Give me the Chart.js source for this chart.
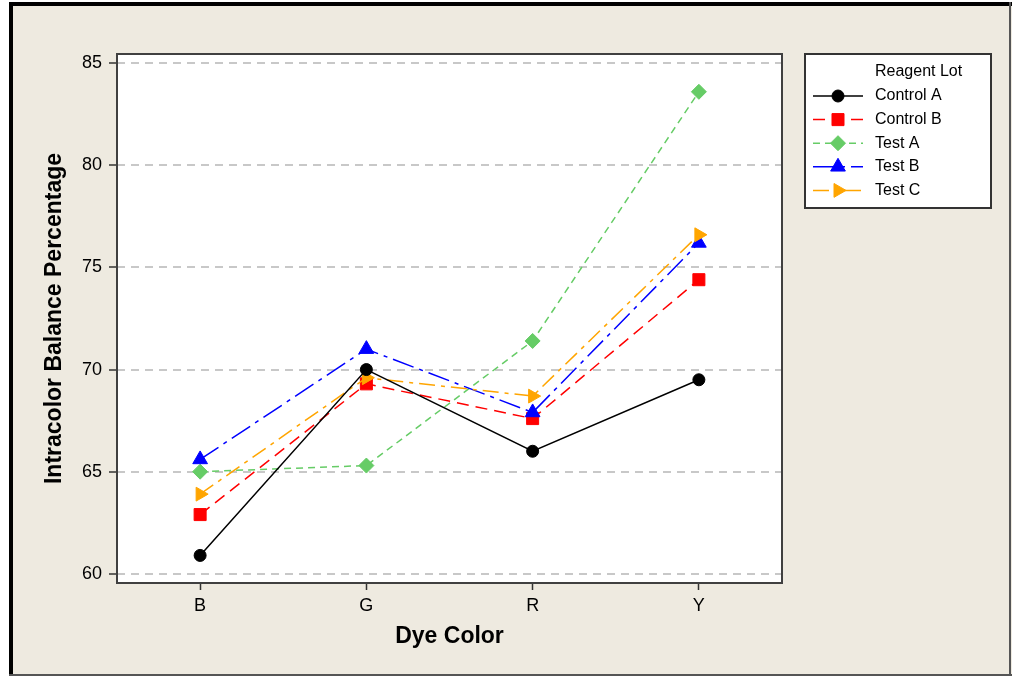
<!DOCTYPE html>
<html>
<head>
<meta charset="utf-8">
<script src="https://cdn.jsdelivr.net/npm/chart.js@4/dist/chart.umd.min.js"></script>
<style>
  html, body { margin:0; padding:0; background:#fff; }
  #wrap { width:1012px; height:676px; position:relative; }
</style>
</head>
<body>
<div id="wrap"><canvas id="chart"></canvas></div>
<script>
// ---------------------------
// DATA
// ---------------------------
const categories = ["B", "G", "R", "Y"];
const controlA = [60.9, 70.0, 66.0, 69.5];
const controlB = [62.9, 69.3, 67.6, 74.4];
const testA    = [65.0, 65.3, 71.4, 83.6];
const testB    = [65.6, 71.0, 67.9, 76.2];
const testC    = [63.9, 69.6, 68.7, 76.6];
const yTicks = [60, 65, 70, 75, 80, 85];
const legendTitle = "Reagent Lot";
const xTitle = "Dye Color";
const yTitle = "Intracolor Balance Percentage";

const FONT = "'Liberation Sans', Arial, sans-serif";
const BG = "#eeeae0";

// ---------------------------
// DATASETS
// ---------------------------
function series(label, data, color, dash, style, radius, rotation, order){
  return {
    label, data, order,
    borderColor: color, backgroundColor: color,
    borderWidth: 1.5, borderDash: dash,
    pointStyle: style, pointRadius: radius, pointHoverRadius: radius,
    pointRotation: rotation, pointBorderColor: color, pointBackgroundColor: color,
    pointBorderWidth: 1, tension: 0
  };
}

const datasets = [
  series("Control A", controlA, "#000000", [], "circle", 6, 0, 0),
  series("Control B", controlB, "#ff0000", [12, 7], "rect", 8.5, 0, 4),
  series("Test A", testA, "#66cc66", [7, 5], "rectRot", 7.5, 0, 3),
  series("Test B", testB, "#0000ff", [22, 6, 4, 6], "triangle", 8.5, 0, 2),
  series("Test C", testC, "#ffa500", [16, 6, 4, 6], "triangle", 8, 90, 1),
];

// ---------------------------
// PLUGINS (frame + legend box)
// ---------------------------
const frame = {
  id: "frame",
  beforeDraw(chart){
    const c = chart.ctx;
    c.save();
    c.fillStyle = "#ffffff";
    c.fillRect(0, 0, chart.width, chart.height);
    c.fillStyle = BG;
    c.fillRect(9, 2, chart.width - 9, chart.height - 2);
    c.fillStyle = "#000";
    c.fillRect(9, 2, chart.width - 9, 4);
    c.fillRect(9, 2, 4, chart.height - 2);
    c.fillStyle = "#555";
    c.fillRect(chart.width - 3, 2, 2, chart.height - 2);
    c.fillRect(9, chart.height - 2, chart.width - 9, 2);
    const a = chart.chartArea;
    c.fillStyle = "#ffffff";
    c.fillRect(a.left, a.top, a.right - a.left, a.bottom - a.top);
    c.restore();
  },
  afterDraw(chart){
    const c = chart.ctx;
    const a = chart.chartArea;
    c.save();
    c.strokeStyle = "#404040";
    c.lineWidth = 2;
    c.strokeRect(a.left, a.top, a.right - a.left, a.bottom - a.top);

    // legend box
    const bx = 805, by = 54, bw = 186, bh = 154;
    c.fillStyle = "#ffffff";
    c.fillRect(bx, by, bw, bh);
    c.strokeStyle = "#333";
    c.strokeRect(bx, by, bw, bh);
    c.fillStyle = "#000";
    c.font = "16px " + FONT;
    c.textBaseline = "middle";
    c.textAlign = "left";
    c.fillText(legendTitle, 875, 72);
    chart.data.datasets.forEach((d, i) => {
      const y = 96 + i * 23.6;
      c.save();
      c.strokeStyle = d.borderColor;
      c.lineWidth = 1.5;
      c.setLineDash(d.borderDash);
      c.beginPath();
      c.moveTo(813, y);
      c.lineTo(863, y);
      c.stroke();
      c.restore();
      c.save();
      c.fillStyle = d.pointBackgroundColor;
      c.strokeStyle = d.pointBorderColor;
      c.lineWidth = 1;
      Chart.helpers.drawPoint(c, {
        pointStyle: d.pointStyle, radius: d.pointRadius,
        rotation: d.pointRotation, borderWidth: 1
      }, 838, y);
      c.restore();
      c.fillStyle = "#000";
      c.font = "16px " + FONT;
      c.fillText(d.label, 875, y);
    });
    c.restore();
  }
};

// ---------------------------
// CHART
// ---------------------------
new Chart(document.getElementById("chart"), {
  type: "line",
  data: { labels: categories, datasets },
  plugins: [frame],
  options: {
    responsive: true,
    maintainAspectRatio: false,
    animation: false,
    layout: { padding: { top: 54, right: 230, left: 0, bottom: 0 } },
    plugins: { legend: { display: false }, tooltip: { enabled: false } },
    scales: {
      x: {
        offset: true,
        afterFit: (s) => { s.height = 93; },
        grid: { offset: false, drawOnChartArea: false, drawTicks: true,
                tickLength: 7, tickColor: "#333", tickWidth: 1.5 },
        border: { display: false },
        ticks: { color: "#000", padding: 5, font: { family: FONT, size: 18 } },
        title: { display: true, text: xTitle, color: "#000",
                 font: { family: FONT, size: 23, weight: "bold" },
                 padding: { top: 0, bottom: 26 } }
      },
      y: {
        min: 59.55, max: 85.45,
        afterFit: (s) => { s.width = 117; },
        afterBuildTicks: (s) => { s.ticks = yTicks.map(v => ({ value: v })); },
        grid: { color: "#c8c8c8", lineWidth: 2, drawTicks: true,
                tickLength: 8, tickColor: "#333", tickWidth: 1.5 },
        border: { display: false, dash: [8, 6] },
        ticks: { color: "#000", padding: 7, font: { family: FONT, size: 18 } },
        title: { display: true, text: yTitle, color: "#000",
                 font: { family: FONT, size: 23, weight: "bold" },
                 padding: { top: 41, bottom: 0 } }
      }
    }
  }
});
</script>
</body>
</html>
